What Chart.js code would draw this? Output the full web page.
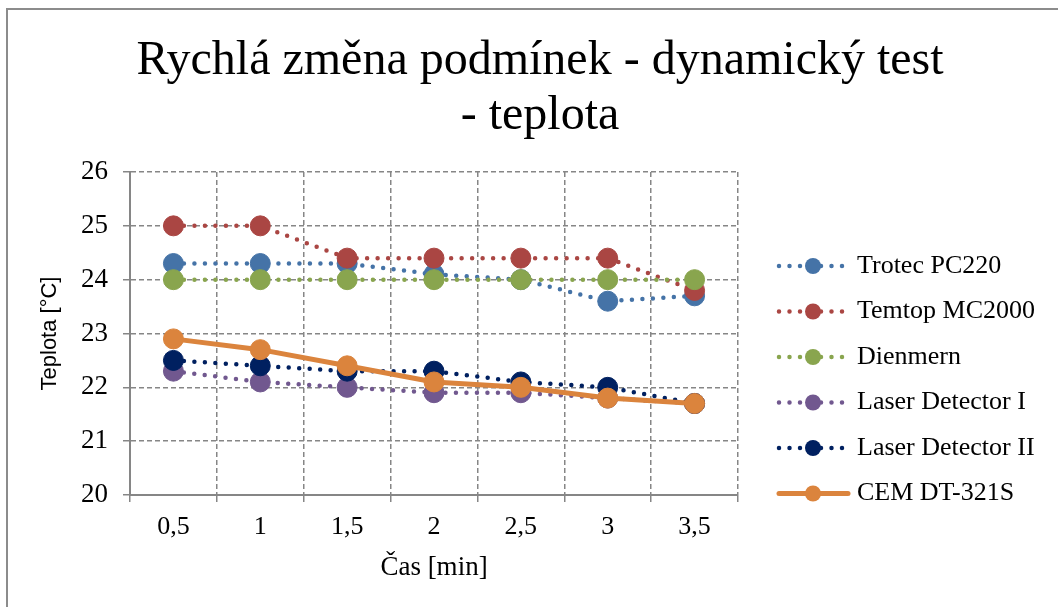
<!DOCTYPE html>
<html>
<head>
<meta charset="utf-8">
<script src="https://cdn.jsdelivr.net/npm/chart.js@4.4.1/dist/chart.umd.min.js"></script>
<style>
  body { margin: 0; background: #fff; }
  #wrap { width: 1058px; height: 607px; }
</style>
</head>
<body>
<div id="wrap"><canvas id="chart"></canvas></div>
<script>
// --- data ---
const categories = ['0,5', '1', '1,5', '2', '2,5', '3', '3,5'];
const trotec    = [24.3, 24.3, 24.3, 24.1, 24.0, 23.6, 23.7];
const temtop    = [25.0, 25.0, 24.4, 24.4, 24.4, 24.4, 23.8];
const dienmern  = [24.0, 24.0, 24.0, 24.0, 24.0, 24.0, 24.0];
const laser1    = [22.3, 22.1, 22.0, 21.9, 21.9, 21.8, 21.7];
const laser2    = [22.5, 22.4, 22.3, 22.3, 22.1, 22.0, 21.7];
const cem       = [22.9, 22.7, 22.4, 22.1, 22.0, 21.8, 21.7];

const yTicks = { min: 20, max: 26, step: 1 };

const GRID = '#868686';
const SERIF = "'Liberation Serif', 'Times New Roman', serif";

function series(label, values, color, dotted, idx) {
    return {
        label: label,
        data: values,
        borderColor: color,
        backgroundColor: color,
        pointBackgroundColor: color,
        pointBorderColor: color,
        pointBorderWidth: 1,
        pointRadius: 10,
        pointHoverRadius: 10,
        borderWidth: dotted ? 4.5 : 5,
        borderDash: dotted ? [0, 10.5] : [],
        borderCapStyle: 'round',
        borderJoinStyle: 'round',
        tension: 0,
        fill: false,
        dotted: dotted,
        order: 10 - idx // later series drawn on top, like Excel
    };
}

const datasets = [
    series('Trotec PC220', trotec, '#4573a7', true, 0),
    series('Temtop MC2000', temtop, '#aa4643', true, 1),
    series('Dienmern', dienmern, '#89a54e', true, 2),
    series('Laser Detector I', laser1, '#71588f', true, 3),
    series('Laser Detector II', laser2, '#002060', true, 4),
    series('CEM DT-321S', cem, '#db843d', false, 5)
];

// frame lines + white background
const framePlugin = {
    id: 'frame',
    beforeDraw(chart) {
        const ctx = chart.ctx;
        ctx.save();
        ctx.fillStyle = '#fff';
        ctx.fillRect(0, 0, chart.width, chart.height);
        ctx.strokeStyle = '#8c8c8c';
        ctx.lineWidth = 2;
        ctx.beginPath();
        ctx.moveTo(7, chart.height);
        ctx.lineTo(7, 9);
        ctx.lineTo(chart.width, 9);
        ctx.stroke();
        ctx.restore();
    }
};

// legend drawn by hand: dotted line with marker, like Excel
const legendPlugin = {
    id: 'xlLegend',
    afterDraw(chart) {
        const ctx = chart.ctx;
        const x0 = 779, x1 = 848, mx = 813, tx = 857;
        let y = 266;
        chart.data.datasets.forEach(ds => {
            ctx.save();
            ctx.strokeStyle = ds.borderColor;
            ctx.lineWidth = ds.borderWidth;
            ctx.lineCap = 'round';
            ctx.setLineDash(ds.dotted ? [0, 10.5] : []);
            ctx.beginPath();
            ctx.moveTo(x0, y);
            ctx.lineTo(x1, y);
            ctx.stroke();
            ctx.setLineDash([]);
            ctx.fillStyle = ds.borderColor;
            ctx.beginPath();
            ctx.arc(mx, y, 8, 0, Math.PI * 2);
            ctx.fill();
            ctx.fillStyle = '#000';
            ctx.font = '26px ' + SERIF;
            ctx.textBaseline = 'middle';
            ctx.textAlign = 'left';
            ctx.fillText(ds.label, tx, y);
            ctx.restore();
            y += 45.5;
        });
    }
};

const ctx = document.getElementById('chart').getContext('2d');
new Chart(ctx, {
    type: 'line',
    data: { labels: categories, datasets: datasets },
    plugins: [framePlugin, legendPlugin],
    options: {
        responsive: true,
        maintainAspectRatio: false,
        animation: false,
        events: [],
        layout: { padding: { left: 22, right: 0, top: 0, bottom: 0 } },
        plugins: {
            legend: { display: false },
            tooltip: { enabled: false },
            title: {
                display: true,
                text: ['Rychlá změna podmínek - dynamický test', '- teplota'],
                color: '#000',
                font: { family: SERIF, size: 48, weight: 'normal', lineHeight: 1.15 },
                padding: { top: 34, bottom: 27.6 }
            }
        },
        scales: {
            x: {
                type: 'category',
                offset: true,
                grid: {
                    offset: true,
                    color: GRID,
                    lineWidth: 1.5,
                    tickLength: 7,
                    tickColor: GRID,
                    tickWidth: 1.5,
                    tickBorderDash: []
                },
                border: { display: true, color: GRID, width: 2, dash: [5, 3] },
                ticks: { color: '#000', font: { family: SERIF, size: 26 }, padding: 10, maxRotation: 0 },
                title: {
                    display: true,
                    text: 'Čas [min]',
                    color: '#000',
                    font: { family: SERIF, size: 27 },
                    padding: { top: 0, bottom: 23 }
                },
                afterFit(scale) { scale.height = 112; }
            },
            y: {
                min: yTicks.min,
                max: yTicks.max,
                grid: {
                    color: GRID,
                    lineWidth: 1.5,
                    tickLength: 7,
                    tickColor: GRID,
                    tickWidth: 1.5,
                    tickBorderDash: []
                },
                border: { display: true, color: GRID, width: 2, dash: [5, 3] },
                ticks: { stepSize: yTicks.step, color: '#000', font: { family: SERIF, size: 27 }, padding: 15 },
                title: {
                    display: true,
                    text: 'Teplota [°C]',
                    color: '#000',
                    font: { family: "'Liberation Sans', Arial, sans-serif", size: 22 },
                    padding: { top: 15, bottom: 0 }
                },
                afterFit(scale) { scale.width = 108; }
            },
            legendSpace: {
                type: 'linear',
                position: 'right',
                display: true,
                grid: { display: false, drawTicks: false },
                border: { display: false },
                ticks: { display: false },
                afterFit(scale) { scale.width = 320; }
            }
        }
    }
});
</script>
</body>
</html>
